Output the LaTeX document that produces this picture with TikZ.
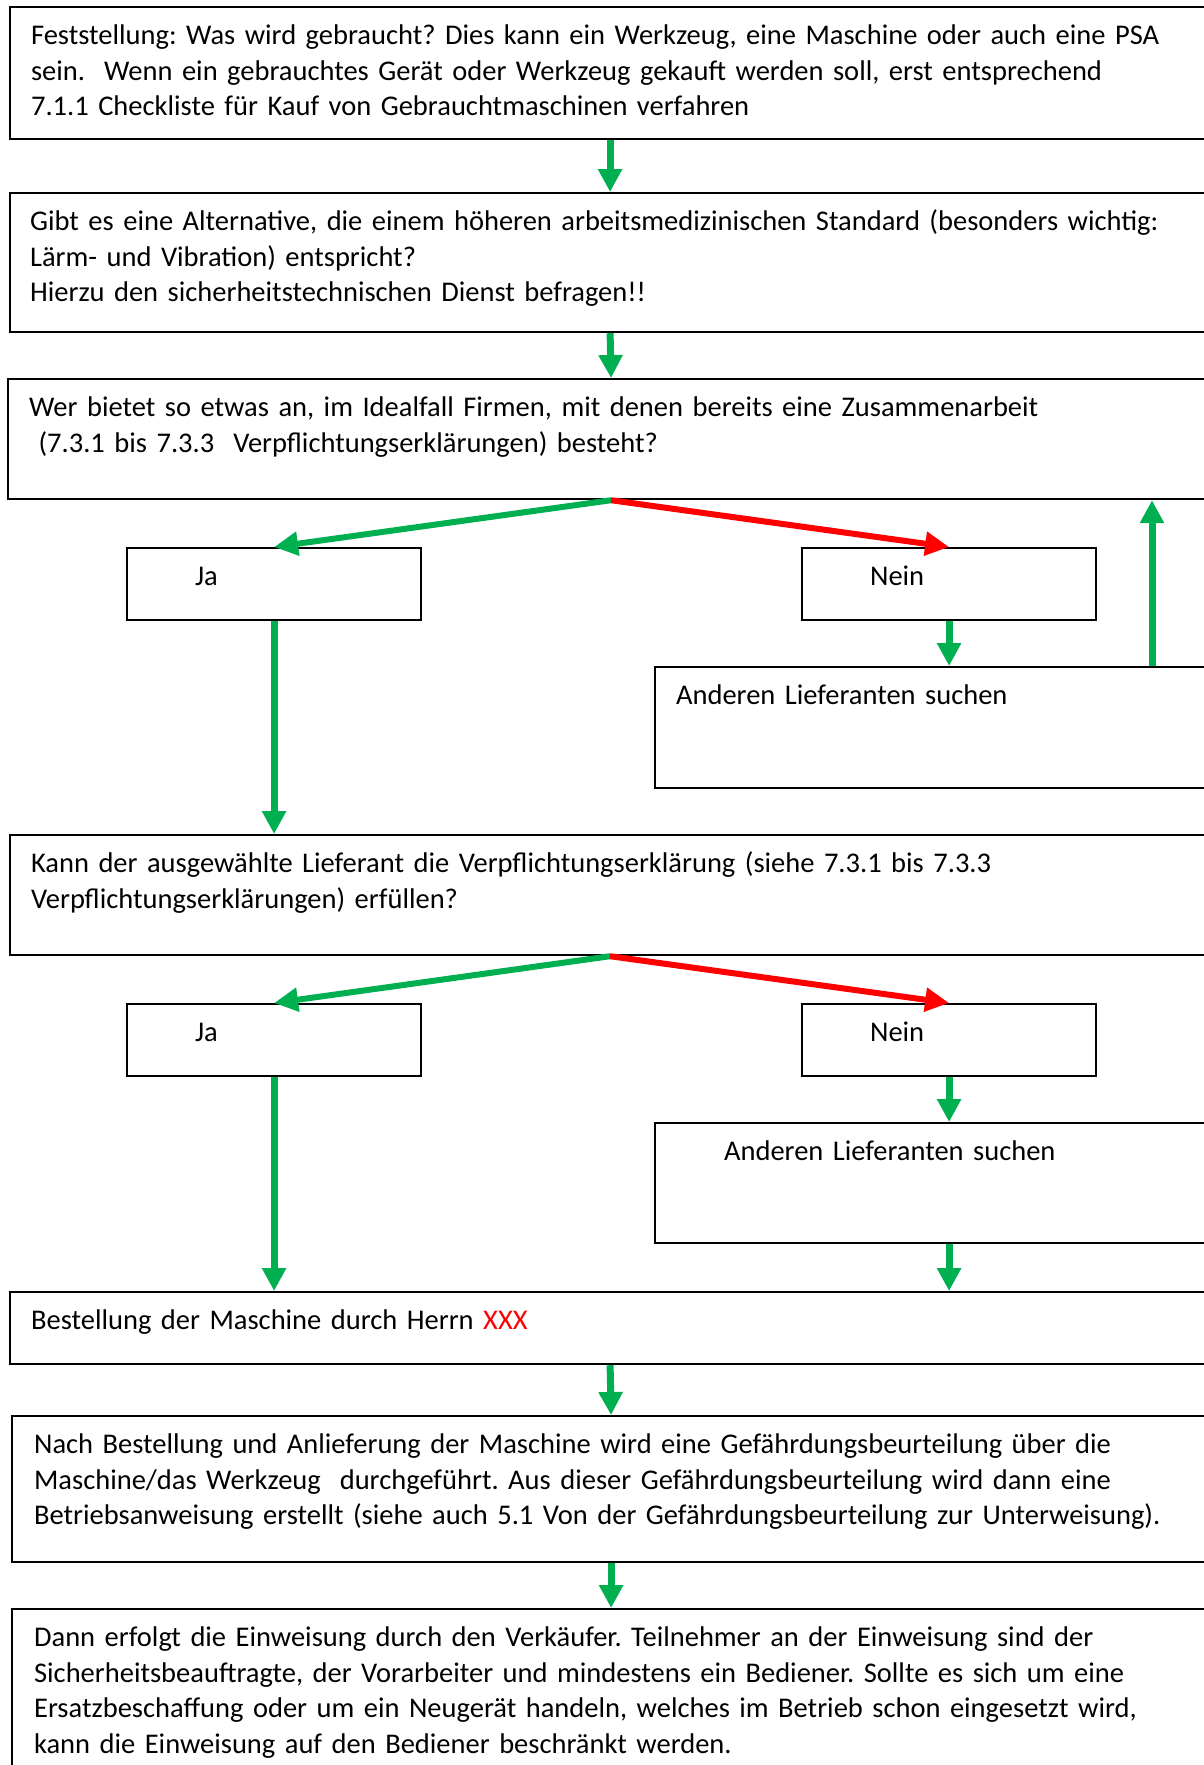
\documentclass[tikz,border=0pt]{standalone}
\usepackage{fontspec}
\setmainfont{Carlito}
\frenchspacing
\usetikzlibrary{arrows.meta,positioning}
\definecolor{flowgreen}{RGB}{0,176,80}
\definecolor{flowred}{RGB}{255,0,0}
\tikzset{
  box/.style={draw, line width=2.2pt, anchor=north west, align=left, inner ysep=0pt, inner xsep=21pt, text height=37.5pt, font=\fontsize{28.5}{35.5}\selectfont},
  yesarrow/.style={draw=flowgreen, line width=7pt, -{Triangle[length=23pt,width=23pt]}},
  diagyes/.style={draw=flowgreen, line width=6pt, -{Triangle[length=24pt,width=23pt]}},
  diagno/.style={draw=flowred, line width=6pt, -{Triangle[length=24pt,width=23pt]}}
}

\begin{document}
\begin{tikzpicture}[x=1pt, y=-1pt]
  \useasboundingbox (0,0) rectangle (1204,1765);
  \clip (0,0) rectangle (1204,1765);

  \node[box, text width=1158pt, text depth=94.5pt] (need) at (9,6) {Feststellung: Was wird gebraucht? Dies kann ein Werkzeug, eine Maschine oder auch eine PSA\\sein.~ Wenn ein gebrauchtes Gerät oder Werkzeug gekauft werden soll, erst entsprechend\\7.1.1 Checkliste für Kauf von Gebrauchtmaschinen verfahren};

  \node[box, inner xsep=20pt, text width=1160pt, text depth=101.5pt] (alt) at (9,192) {Gibt es eine Alternative, die einem höheren arbeitsmedizinischen Standard (besonders wichtig:\\Lärm- und Vibration) entspricht?\\Hierzu den sicherheitstechnischen Dienst befragen!!};

  \node[box, text width=1164pt, text depth=82.5pt] (supplier) at (7,378) {Wer bietet so etwas an, im Idealfall Firmen, mit denen bereits eine Zusammenarbeit\\\ (7.3.1 bis 7.3.3~ Verpflichtungserklärungen) besteht?};

  % first decision
  \node[box, inner xsep=68pt, text width=158pt, text depth=34.5pt] (yes1) at (126,547) {Ja};
  \node[box, inner xsep=68pt, text width=158pt, text depth=34.5pt] (no1) at (801,547) {Nein};
  \node[box, text width=558pt, text depth=83.5pt] (other1) at (654,666) {Anderen Lieferanten suchen};

  \node[box, text width=1158pt, text depth=82.5pt] (check) at (9,834) {Kann der ausgewählte Lieferant die Verpflichtungserklärung (siehe 7.3.1 bis 7.3.3\\Verpflichtungserklärungen) erfüllen?};

  % second decision
  \node[box, inner xsep=68pt, text width=158pt, text depth=34.5pt] (yes2) at (126,1003) {Ja};
  \node[box, inner xsep=68pt, text width=158pt, text depth=34.5pt] (no2) at (801,1003) {Nein};
  \node[box, inner xsep=69pt, text width=462pt, text depth=82.5pt] (other2) at (654,1122) {Anderen Lieferanten suchen};

  \node[box, text width=1158pt, text depth=34.5pt] (order) at (9,1291) {Bestellung der Maschine durch Herrn \textcolor{flowred}{XXX}};

  \node[box, inner xsep=22pt, text width=1154pt, text depth=108.5pt] (assess) at (11,1415) {Nach Bestellung und Anlieferung der Maschine wird eine Gefährdungsbeurteilung über die\\Maschine/das Werkzeug~ durchgeführt. Aus dieser Gefährdungsbeurteilung wird dann eine\\Betriebsanweisung erstellt (siehe auch 5.1 Von der Gefährdungsbeurteilung zur Unterweisung).};

  \node[box, inner xsep=22pt, text width=1154pt, text depth=200pt] (brief) at (11,1608) {Dann erfolgt die Einweisung durch den Verkäufer. Teilnehmer an der Einweisung sind der\\Sicherheitsbeauftragte, der Vorarbeiter und mindestens ein Bediener. Sollte es sich um eine\\Ersatzbeschaffung oder um ein Neugerät handeln, welches im Betrieb schon eingesetzt wird,\\kann die Einweisung auf den Bediener beschränkt werden.};

  \coordinate (loop) at (1152,0);

  \draw[yesarrow] (need.south) -- (alt.north);
  \draw[yesarrow] (alt.south) -- (supplier.north);
  \draw[diagyes] (supplier.south) -- (yes1.north);
  \draw[diagno] (supplier.south) -- (no1.north);
  \draw[yesarrow] (no1.south) -- (no1.south |- other1.north);
  \draw[yesarrow] (other1.north -| loop) -- (supplier.south -| loop);
  \draw[yesarrow] (yes1.south) -- (yes1.south |- check.north);
  \draw[diagyes] (check.south) -- (yes2.north);
  \draw[diagno] (check.south) -- (no2.north);
  \draw[yesarrow] (no2.south) -- (no2.south |- other2.north);
  \draw[yesarrow] (yes2.south) -- (yes2.south |- order.north);
  \draw[yesarrow] (other2.south -| no2.south) -- (order.north -| no2.south);
  \draw[yesarrow] (order.south) -- (assess.north);
  \draw[yesarrow] (assess.south) -- (brief.north);
\end{tikzpicture}
\end{document}
